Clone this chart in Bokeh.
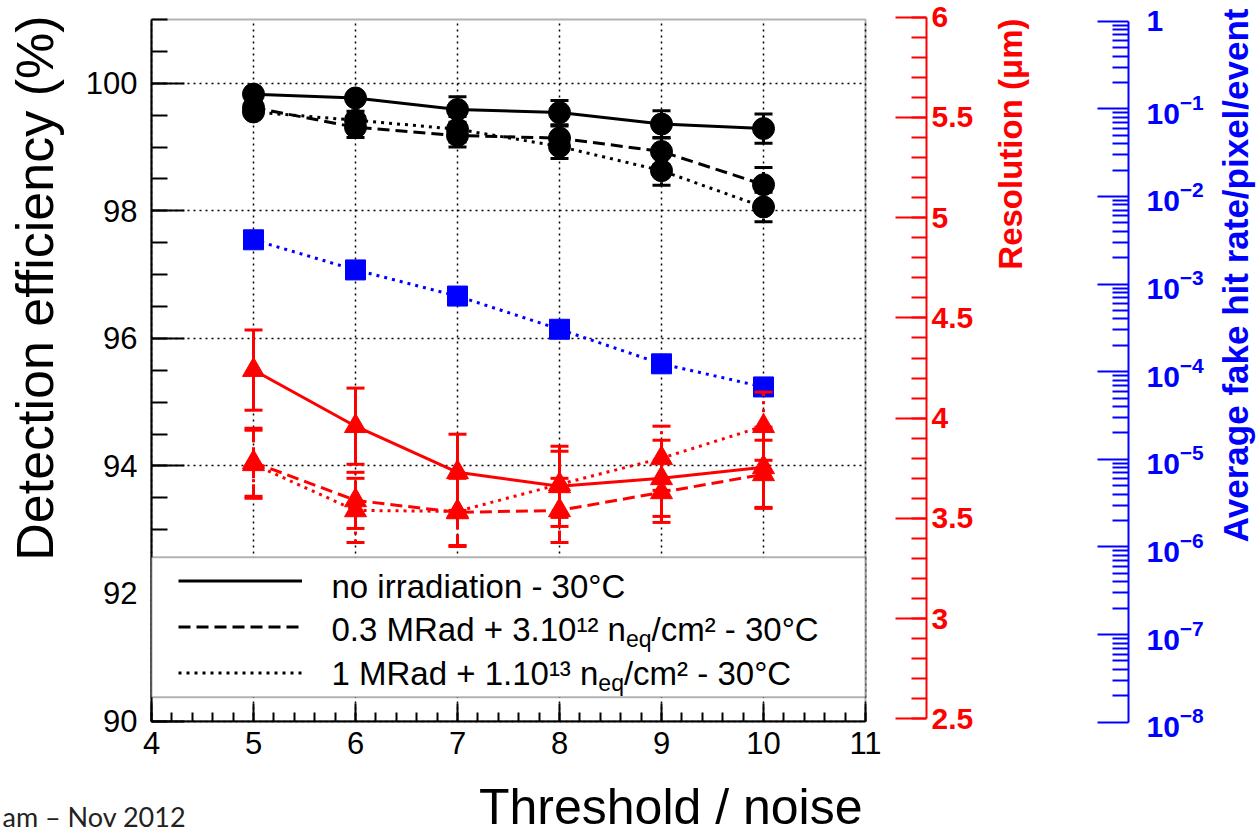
import math
import numpy as np
from bokeh.plotting import figure
from bokeh.models import (Range1d, LinearAxis, LogAxis, LogScale, SingleIntervalTicker,
                          FixedTicker, LogTickFormatter, NumeralTickFormatter, Legend,
                          LegendItem, Label, ColumnDataSource, Grid, BoxAnnotation)
from bokeh.embed import file_html
from bokeh.resources import INLINE

# ---------------- data ----------------
threshold = [5, 6, 7, 8, 9, 10]

# detection efficiency (%) - left axis
eff_noirr = [99.83, 99.77, 99.59, 99.54, 99.36, 99.29]
eff_noirr_err = [0.05, 0.06, 0.20, 0.19, 0.21, 0.23]
eff_03 = [99.62, 99.31, 99.18, 99.14, 98.93, 98.41]
eff_03_err = [0.06, 0.16, 0.18, 0.19, 0.21, 0.27]
eff_1 = [99.55, 99.42, 99.28, 99.01, 98.63, 98.06]
eff_1_err = [0.06, 0.14, 0.20, 0.19, 0.23, 0.23]

# resolution (um) - red axis
res_noirr = [4.24, 3.96, 3.73, 3.66, 3.70, 3.755]
res_noirr_err = [0.20, 0.19, 0.19, 0.20, 0.19, 0.20]
res_03 = [3.78, 3.59, 3.53, 3.54, 3.63, 3.72]
res_03_err = [0.17, 0.14, 0.17, 0.16, 0.15, 0.17]
res_1 = [3.77, 3.54, 3.535, 3.67, 3.80, 3.96]
res_1_err = [0.17, 0.16, 0.17, 0.165, 0.16, 0.17]

# average fake hit rate / pixel / event - blue log axis
fake_rate = [3.2e-3, 1.45e-3, 7.3e-4, 3.05e-4, 1.23e-4, 6.7e-5]

legend_labels = ["no irradiation - 30\u00b0C",
                 ["0.3 MRad + 3.10\u00b9\u00b2 n", "eq", "/cm\u00b2 - 30\u00b0C"],
                 ["1 MRad + 1.10\u00b9\u00b3 n", "eq", "/cm\u00b2 - 30\u00b0C"]]

# ---------------- layout (pixels) ----------------
FONT = "Liberation Sans"
W, H = 1256, 836
BOX_L, BOX_R, BOX_T, BOX_B = 151.0, 865.0, 19.0, 720.5     # main frame, x 4..11, y 90..101
XMIN, XMAX, YMIN, YMAX = 4, 11, 90, 101
RES_T, RES_B, RES_MIN, RES_MAX = 16.7, 718.4, 2.5, 6.0     # red axis extent
RATE_T, RATE_B, RATE_MIN, RATE_MAX = 20.7, 721.7, -8, 0    # blue axis extent (log10)
LEG_T, LEG_B = 556.7, 696.7                                 # legend box

KX = (BOX_R - BOX_L) / (XMAX - XMIN)
KY = (BOX_B - BOX_T) / (YMAX - YMIN)
KR = (RES_B - RES_T) / (RES_MAX - RES_MIN)
KB = (RATE_B - RATE_T) / (RATE_MAX - RATE_MIN)

# empirical offset of Bokeh's "alphabetic" baseline (fraction of font size)
K_H, K_V = 0.27, 0.40


def X(px):
    return XMIN + (px - BOX_L) / KX


def Y(py):
    return YMAX - (py - BOX_T) / KY


p = figure(width=W, height=H,
           x_range=Range1d(X(0), X(W)), y_range=Range1d(Y(H), Y(0)),
           x_axis_location=None, y_axis_location=None,
           output_backend="svg", toolbar_location=None, min_border=0)
p.extra_y_ranges = {
    "res": Range1d(RES_MIN - (H - RES_B) / KR, RES_MAX + RES_T / KR),
    "rate": Range1d(10 ** (RATE_MIN - (H - RATE_B) / KB), 10 ** (RATE_MAX + RATE_T / KB)),
}
p.extra_y_scales = {"rate": LogScale()}
p.outline_line_color = None
p.background_fill_color = "white"
p.border_fill_color = "white"
for g in list(p.xgrid) + list(p.ygrid):
    g.visible = False

# ---------------- axes ----------------
x_ticker = SingleIntervalTicker(interval=1, num_minor_ticks=5)
y_ticker = SingleIntervalTicker(interval=2, num_minor_ticks=4)


def style(ax, color, tick_in, minor_in, fs, standoff, bold=False):
    ax.axis_line_color = color
    ax.axis_line_width = 2
    ax.major_tick_line_color = color
    ax.minor_tick_line_color = color
    ax.major_tick_line_width = 2
    ax.minor_tick_line_width = 2
    ax.major_tick_in, ax.major_tick_out = tick_in, 0
    ax.minor_tick_in, ax.minor_tick_out = minor_in, 0
    ax.major_label_text_color = color
    ax.major_label_text_font = FONT
    ax.major_label_text_font_size = fs
    ax.major_label_standoff = standoff
    if bold:
        ax.major_label_text_font_style = "bold"


xa = LinearAxis(ticker=x_ticker, fixed_location=YMIN, bounds=(XMIN, XMAX))
style(xa, "black", 18, 9, "31px", 11)
p.add_layout(xa, "below")

ya = LinearAxis(ticker=y_ticker, fixed_location=XMIN, bounds=(YMIN, YMAX))
style(ya, "black", 33, 16, "31px", 14)
p.add_layout(ya, "left")

ra = LinearAxis(y_range_name="res", fixed_location=X(926), bounds=(RES_MIN, RES_MAX),
                ticker=SingleIntervalTicker(interval=0.5, num_minor_ticks=5),
                formatter=NumeralTickFormatter(format="0.[0]"))
style(ra, "red", 31, 15, "30px", 5, bold=True)
p.add_layout(ra, "right")

decades = [10.0 ** k for k in range(RATE_MIN, RATE_MAX + 1)]
minors = [m * 10.0 ** k for k in range(RATE_MIN, RATE_MAX) for m in range(2, 10)]
ba = LogAxis(y_range_name="rate", fixed_location=X(1128), bounds=(decades[0], decades[-1]),
             ticker=FixedTicker(ticks=decades, minor_ticks=minors),
             formatter=LogTickFormatter(min_exponent=1))
style(ba, "blue", 31, 16, "30px", 18, bold=True)
p.add_layout(ba, "right")

# ---------------- grid (limited to the main frame) ----------------
grid_style = dict(grid_line_color="black", grid_line_dash="2 4", grid_line_width=1.5)
if "cross_bounds" in Grid.properties():
    p.add_layout(Grid(dimension=0, ticker=x_ticker, bounds=(XMIN, XMAX),
                      cross_bounds=(YMIN, YMAX), **grid_style))
    p.add_layout(Grid(dimension=1, ticker=y_ticker, bounds=(YMIN, YMAX),
                      cross_bounds=(XMIN, XMAX), **grid_style))
else:
    gx = np.arange(XMIN + 1, XMAX)
    gy = np.arange(YMIN + 2, YMAX, 2)
    p.segment(gx, YMIN, gx, YMAX, line_color="black", line_dash="2 4", line_width=1.5)
    p.segment(XMIN, gy, XMAX, gy, line_color="black", line_dash="2 4", line_width=1.5)

# main frame box
p.add_layout(BoxAnnotation(left=XMIN, right=XMAX, bottom=YMIN, top=YMAX, fill_color=None,
                           line_color="black", line_width=2))

# ---------------- data marks ----------------
xs = np.array(threshold, dtype=float)


def src(vals, errs=None):
    v = np.array(vals, dtype=float)
    e = np.zeros_like(v) if errs is None else np.array(errs, dtype=float)
    return ColumnDataSource(dict(x=xs, y=v, lo=v - e, hi=v + e))


def draw(source, color, dash, marker, size, yname, errors=True):
    ln = p.line("x", "y", source=source, line_color=color, line_width=3,
                line_dash=dash, y_range_name=yname)
    if errors:
        p.segment("x", "lo", "x", "hi", source=source, line_color=color, line_width=3,
                  line_dash=dash, y_range_name=yname)
        for col in ("lo", "hi"):
            p.scatter("x", col, source=source, marker="dash", size=18, line_color=color,
                      line_width=3, y_range_name=yname)
    p.scatter("x", "y", source=source, marker=marker, size=size, fill_color=color,
              line_color=color, y_range_name=yname)
    return ln


draw(src(fake_rate), "blue", "3 5", "square", 20, "rate", errors=False)
draw(src(res_1, res_1_err), "red", "3 5", "triangle", 22, "res")
draw(src(res_03, res_03_err), "red", "12 6", "triangle", 22, "res")
draw(src(res_noirr, res_noirr_err), "red", "solid", "triangle", 22, "res")
l_dot = draw(src(eff_1, eff_1_err), "black", "3 5", "circle", 22, "default")
l_dash = draw(src(eff_03, eff_03_err), "black", "12 6", "circle", 22, "default")
l_solid = draw(src(eff_noirr, eff_noirr_err), "black", "solid", "circle", 22, "default")

# ---------------- legend ----------------
# white box with border behind a transparent legend (so the texts can sit on top)
p.add_layout(BoxAnnotation(left=XMIN, right=XMAX, bottom=Y(LEG_B), top=Y(LEG_T),
                           fill_color="white", fill_alpha=1.0, line_color="black",
                           line_width=2, level="annotation"))
ROW_H, ROW_GAP = 9, 37
last_row_center = 672
legend = Legend(items=[LegendItem(label=" ", renderers=[l_solid]),
                       LegendItem(label=" ", renderers=[l_dash]),
                       LegendItem(label=" ", renderers=[l_dot])],
                location=(178, H - (last_row_center + ROW_H / 2)), margin=0, padding=0,
                spacing=ROW_GAP, glyph_width=124, glyph_height=ROW_H, label_width=20,
                label_height=ROW_H, label_standoff=5, label_text_font_size="6px",
                border_line_color=None, background_fill_color=None,
                background_fill_alpha=0.0)
p.add_layout(legend)

LEG_FS = 33
SUB_FS = 23
em_part = [8.921, 8.087]   # width (em) of leading legend text, Arial metrics


def label(px, py, text, fs, color="black", bold=False, font=FONT, vertical=False, **kw):
    if vertical:
        px = px - K_V * fs
        kw["angle"] = math.pi / 2
    else:
        py = py - K_H * fs
    p.add_layout(Label(x=X(px), y=Y(py), text=text, text_font=font,
                       text_font_size=f"{fs}px", text_color=color,
                       text_font_style="bold" if bold else "normal",
                       text_baseline="alphabetic", level="overlay", **kw))


label(331, 595, legend_labels[0], LEG_FS)
for i, (base_y, parts) in enumerate([(638, legend_labels[1]), (681.5, legend_labels[2])]):
    x0 = 331
    x1 = x0 + em_part[i] * LEG_FS
    x2 = x1 + 1.112 * SUB_FS
    label(x0, base_y, parts[0], LEG_FS)
    label(x1, base_y + 7, parts[1], SUB_FS)
    label(x2, base_y, parts[2], LEG_FS)

# ---------------- titles ----------------
label(55, 15, "Detection efficiency (%)", 52, vertical=True, text_align="right")
label(1023.5, 18, "Resolution (\u03bcm)", 33, color="red", bold=True, vertical=True,
      text_align="right")
label(1249, 8, "Average fake hit rate/pixel/event", 35, color="blue", bold=True,
      vertical=True, text_align="right")
label(862, 820, "Threshold / noise", 50, text_align="right")
label(2, 823, "am \u2013 Nov 2012", 27, color="#222222", font="Lato")

open("out.html", "w").write(file_html(p, INLINE))
